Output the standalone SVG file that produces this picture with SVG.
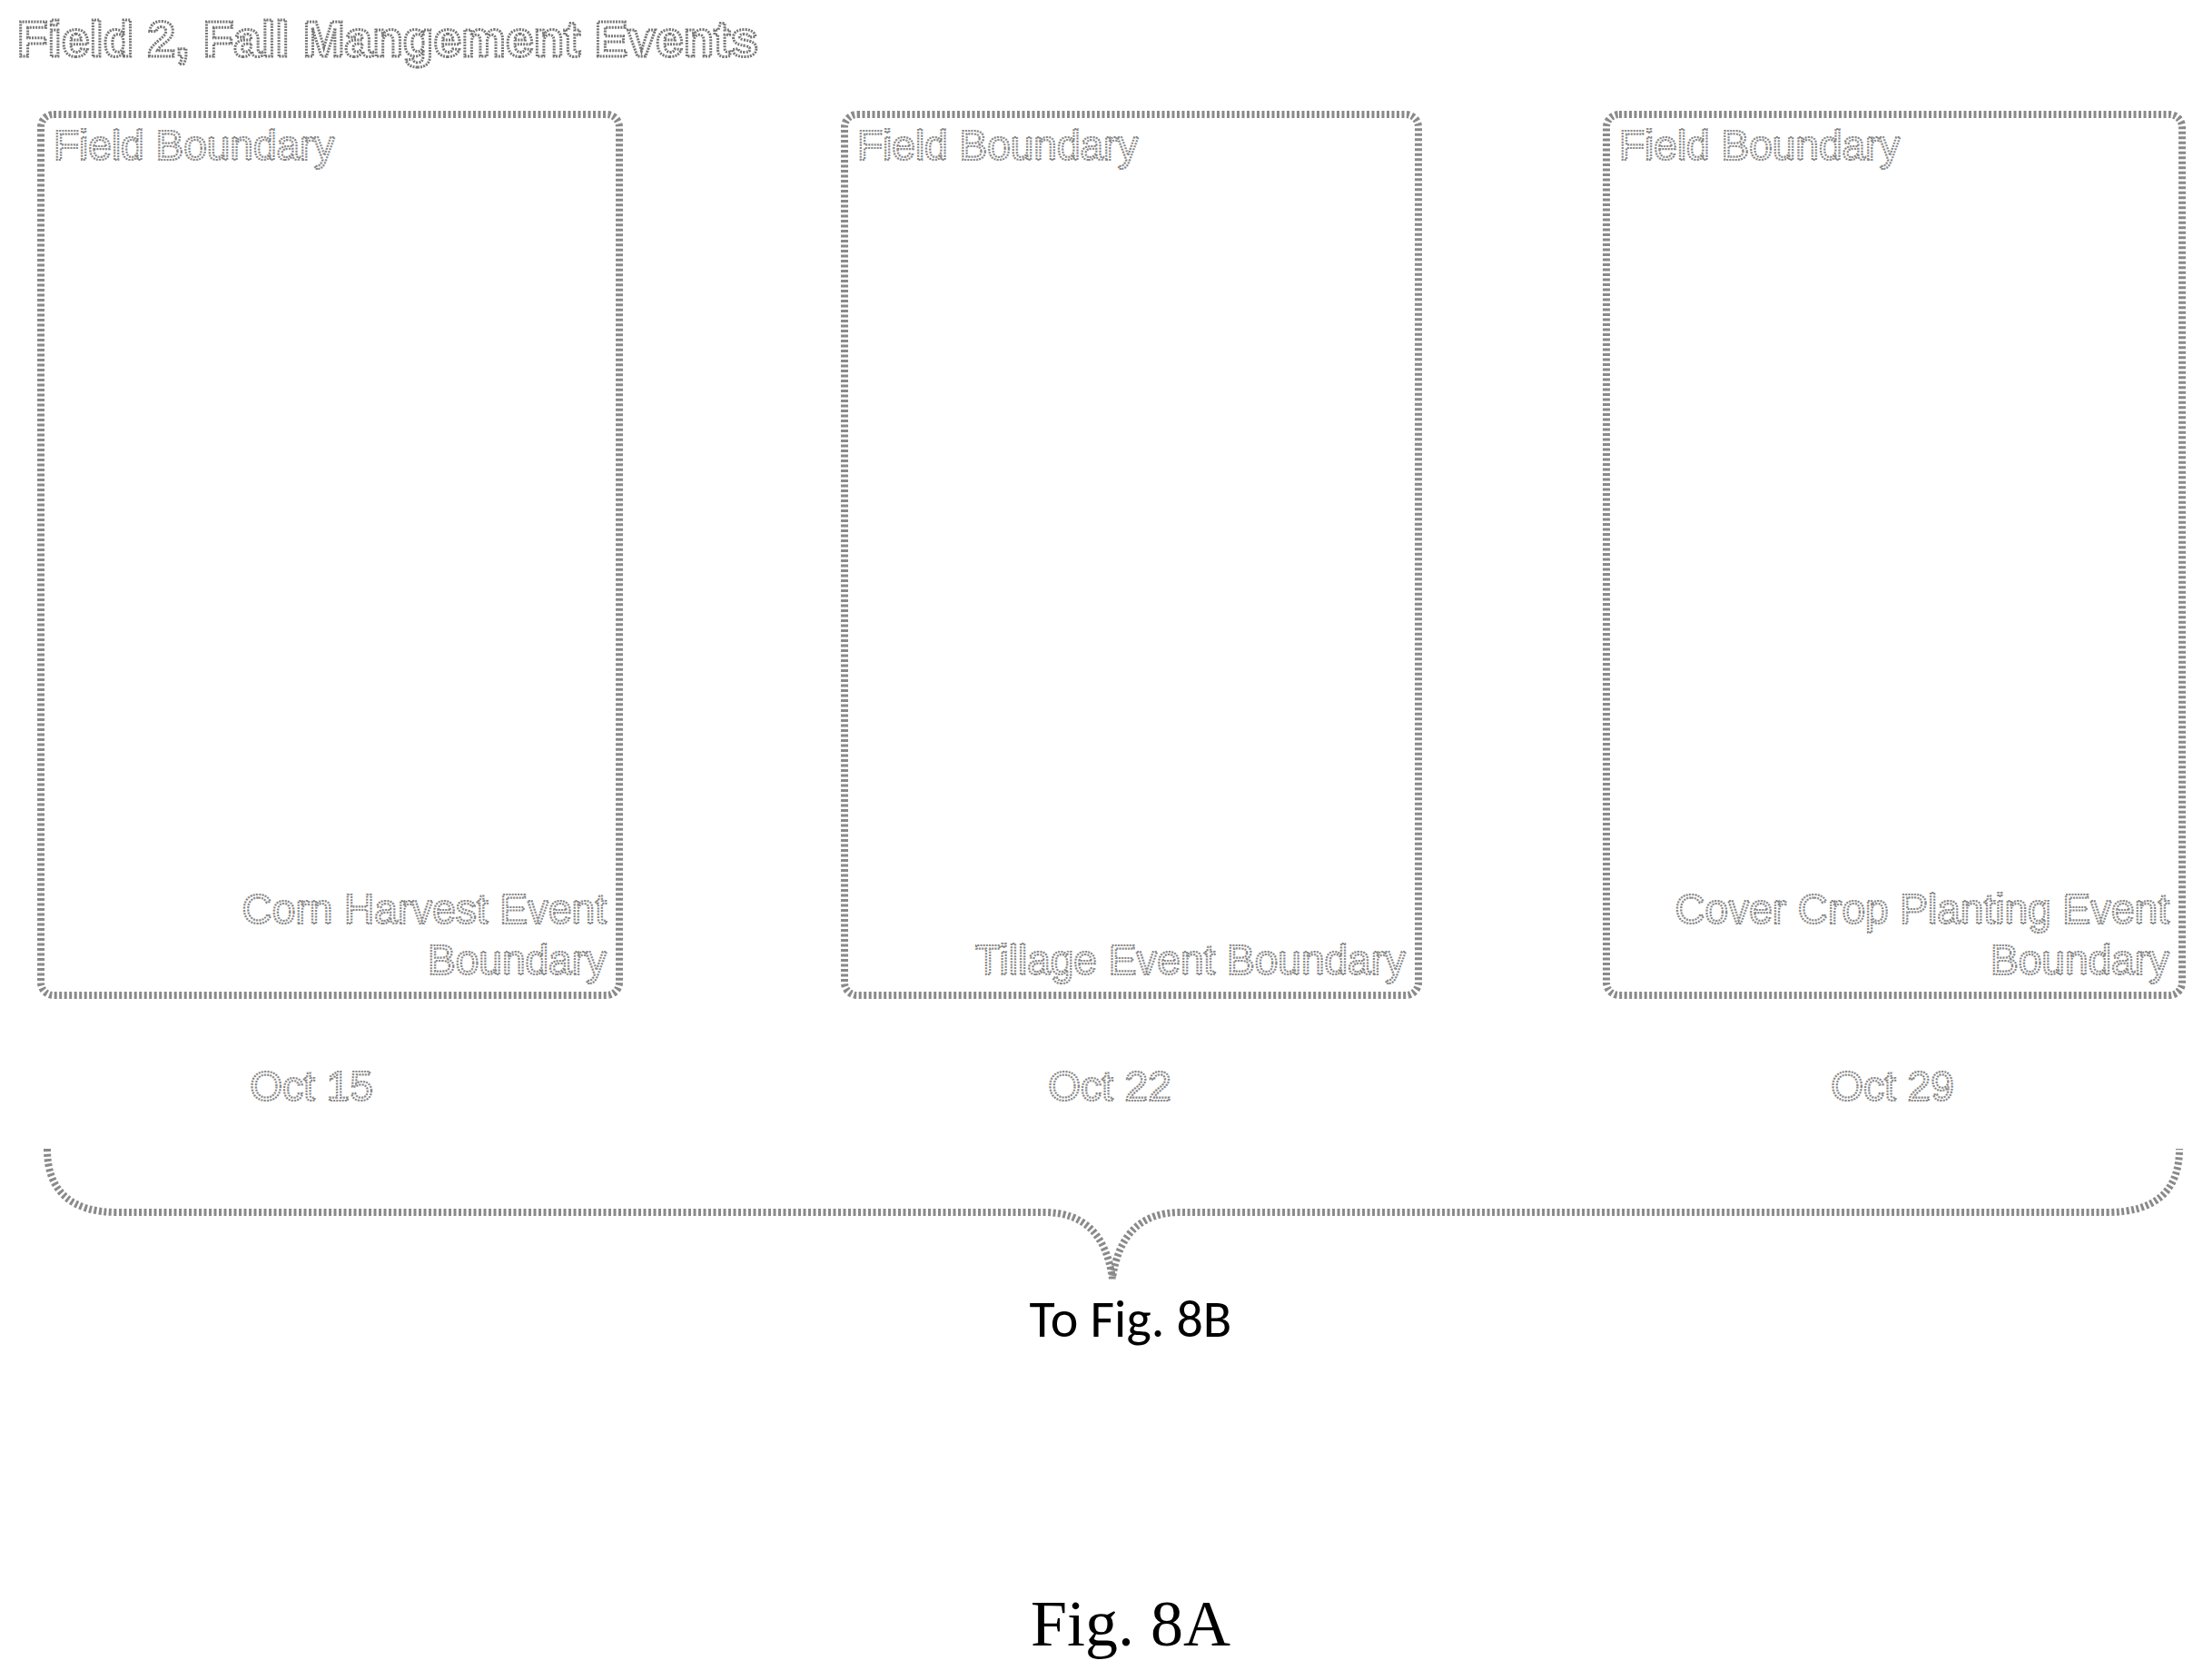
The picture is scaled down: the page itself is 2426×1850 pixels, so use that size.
<svg xmlns="http://www.w3.org/2000/svg" width="2426" height="1850" viewBox="0 0 2426 1850">
<style>
.box{fill:none;stroke:#8a8a8a;stroke-width:8;stroke-dasharray:3 2.5}
.lbl{font-family:"Liberation Sans",Arial,sans-serif;font-size:46px;fill:#fff;stroke:#888;stroke-width:2.2;stroke-dasharray:2 1.2}
.t{font-family:"Liberation Sans",Arial,sans-serif;font-size:55px;font-weight:bold;fill:#fff;stroke:#777;stroke-width:3;stroke-dasharray:2 1.2}
</style>
<rect width="2426" height="1850" fill="#fff"/>
<text class="t" x="19" y="62">Field 2, Fall Mangement Events</text>
<g id="box1">
<rect class="box" x="45" y="126" width="637" height="970" rx="14"/>
<text class="lbl" x="59" y="176">Field Boundary</text>
<text class="lbl" x="668" y="1017" text-anchor="end">Corn Harvest Event</text>
<text class="lbl" x="668" y="1073" text-anchor="end">Boundary</text>
<text class="lbl" x="343" y="1212" text-anchor="middle">Oct 15</text>
</g>
<g id="box2">
<rect class="box" x="930" y="126" width="632" height="970" rx="14"/>
<text class="lbl" x="944" y="176">Field Boundary</text>
<text class="lbl" x="1548" y="1073" text-anchor="end">Tillage Event Boundary</text>
<text class="lbl" x="1222" y="1212" text-anchor="middle">Oct 22</text>
</g>
<g id="box3">
<rect class="box" x="1769" y="126" width="634" height="970" rx="14"/>
<text class="lbl" x="1783" y="176">Field Boundary</text>
<text class="lbl" x="2389" y="1017" text-anchor="end">Cover Crop Planting Event</text>
<text class="lbl" x="2389" y="1073" text-anchor="end">Boundary</text>
<text class="lbl" x="2084" y="1212" text-anchor="middle">Oct 29</text>
</g>
<g id="connectors">
<path class="box" stroke-width="6" d="M52 1265 Q52 1335 130 1335 L1150 1335 Q1215 1335 1225 1408 Q1235 1335 1300 1335 L2320 1335 Q2400 1335 2400 1265"/>
</g>
<text x="1245" y="1472" text-anchor="middle" font-family="Carlito,'Liberation Sans',sans-serif" font-size="58" fill="#000">To Fig. 8B</text>
<text x="1245" y="1812" text-anchor="middle" font-family="'Liberation Serif',serif" font-size="72" fill="#000">Fig. 8A</text>
</svg>
